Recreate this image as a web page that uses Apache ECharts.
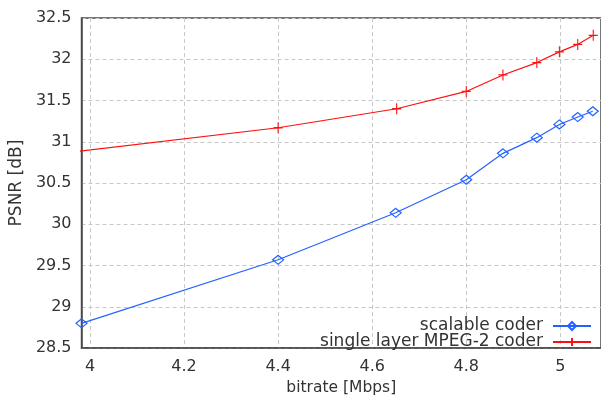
<!DOCTYPE html>
<html>
<head>
<meta charset="utf-8">
<script src="https://cdn.jsdelivr.net/npm/echarts@6/dist/echarts.min.js"></script>
<style>
  html, body { margin: 0; padding: 0; background: #fff; }
  #chart { width: 601px; height: 401px; }
</style>
</head>
<body>
<div id="chart"></div>
<script>
// PSNR versus bitrate for the two coders
const bitrateScalable = [3.982, 4.4, 4.65, 4.8, 4.878, 4.95, 4.998, 5.037, 5.069];
const psnrScalable    = [28.80, 29.57, 30.14, 30.54, 30.86, 31.05, 31.21, 31.30, 31.37];

const bitrateSingle = [3.968, 4.4, 4.652, 4.8, 4.878, 4.95, 4.998, 5.037, 5.07];
const psnrSingle    = [30.88, 31.17, 31.40, 31.61, 31.81, 31.96, 32.09, 32.18, 32.29];

const xTicks = [4, 4.2, 4.4, 4.6, 4.8, 5];

const seriesNames = ['scalable coder', 'single layer MPEG-2 coder'];

const FONT = 'DejaVu Sans';
const TEXT = '#333';
const BLUE = '#2462ff';
const RED = '#ff1010';
const AXIS = '#4a4a4a';
const PLUS = 'path://M0,5 L10,5 M5,0 L5,10';

function pairs(xs, ys) {
  return xs.map((x, i) => [x, ys[i]]);
}

const chart = echarts.init(document.getElementById('chart'), null, { renderer: 'canvas' });

// the first point of the single-layer curve sits just left of the axis, drawn without a marker
const singleData = pairs(bitrateSingle, psnrSingle).map((p, i) =>
  i === 0 ? { value: p, symbol: 'none' } : p);

function legendFor(name, top) {
  return {
    data: [name],
    right: 9, top: top,
    padding: 0,
    align: 'right',
    itemWidth: 38, itemHeight: 10,
    textStyle: { fontFamily: FONT, fontSize: 17, color: TEXT, padding: [0, 5, 0, 0] }
  };
}

chart.setOption({
  animation: false,
  backgroundColor: '#fff',
  grid: {
    left: 81, top: 18, width: 523, height: 333,
    show: true, borderColor: AXIS, borderWidth: 1.5, backgroundColor: 'transparent'
  },
  xAxis: {
    type: 'value',
    min: 3.982,
    max: 5.0865,
    name: 'bitrate [Mbps]',
    nameLocation: 'middle',
    nameGap: 24,
    nameTextStyle: { fontFamily: FONT, fontSize: 15.5, color: TEXT },
    axisLine: { show: true, lineStyle: { color: AXIS, width: 1.5 } },
    axisTick: { show: false, customValues: xTicks },
    axisLabel: {
      customValues: xTicks,
      fontFamily: FONT, fontSize: 16, color: TEXT, margin: 11
    },
    splitLine: { show: true, lineStyle: { color: '#c8c8c8', type: [4, 3], width: 1 } }
  },
  yAxis: {
    type: 'value',
    min: 28.5,
    max: 32.5,
    interval: 0.5,
    name: 'PSNR [dB]',
    nameLocation: 'middle',
    nameGap: 47,
    nameTextStyle: { fontFamily: FONT, fontSize: 17, color: TEXT },
    axisLine: { show: true, lineStyle: { color: AXIS, width: 1.5 } },
    axisTick: { show: false },
    axisLabel: { fontFamily: FONT, fontSize: 16, color: TEXT, margin: 10 },
    splitLine: { show: true, lineStyle: { color: '#c8c8c8', type: [4, 3], width: 1 } }
  },
  legend: [
    legendFor(seriesNames[0], 317.5),
    legendFor(seriesNames[1], 333.5)
  ],
  series: [
    {
      name: seriesNames[0],
      type: 'line',
      data: pairs(bitrateScalable, psnrScalable),
      clip: false,
      symbol: 'diamond',
      symbolSize: [11, 9],
      lineStyle: { color: BLUE, width: 1.2 },
      itemStyle: { color: 'rgba(255,255,255,0)', borderColor: BLUE, borderWidth: 1.2 },
      z: 3
    },
    {
      name: seriesNames[1],
      type: 'line',
      data: singleData,
      clip: false,
      symbol: PLUS,
      symbolSize: [9, 11],
      lineStyle: { color: RED, width: 1.2 },
      itemStyle: { color: RED, borderColor: RED, borderWidth: 1.2 },
      z: 3
    }
  ]
});
</script>
</body>
</html>
